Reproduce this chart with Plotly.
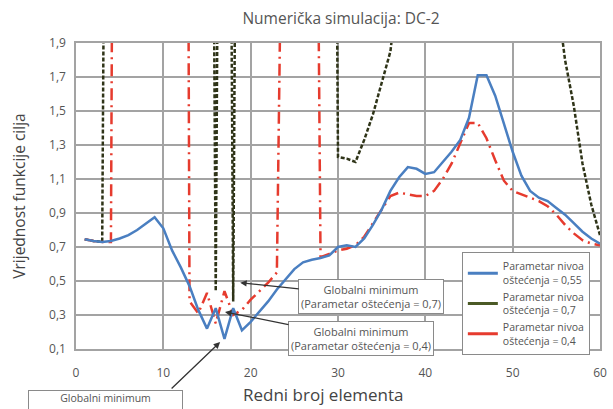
import plotly.graph_objects as go

# ---- data ----
elements = list(range(1, 61))

ciljna_055 = [0.745, 0.735, 0.73, 0.735, 0.75, 0.77, 0.80, 0.84, 0.875, 0.81,
              0.68, 0.58, 0.47, 0.33, 0.22, 0.34, 0.16, 0.34, 0.21, 0.26,
              0.32, 0.38, 0.45, 0.51, 0.57, 0.61, 0.625, 0.635, 0.65, 0.70,
              0.71, 0.70, 0.75, 0.83, 0.92, 1.03, 1.11, 1.17, 1.16, 1.13,
              1.14, 1.20, 1.26, 1.33, 1.46, 1.71, 1.71, 1.59, 1.43, 1.26,
              1.12, 1.03, 0.99, 0.97, 0.93, 0.89, 0.84, 0.79, 0.75, 0.72]

ciljna_07 = [0.745, 0.735, 0.73, 9.0, 9.0, 9.0, 9.0, 9.0, 9.0, 9.0,
             9.0, 9.0, 9.0, 9.0, 9.0, 0.44, 9.0, 0.38, 9.0, 9.0,
             9.0, 9.0, 9.0, 9.0, 9.0, 9.0, 9.0, 9.0, 9.0, 1.23,
             1.22, 1.20, 1.33, 1.48, 1.66, 1.85, 2.3, 2.6, 2.8, 3.0,
             3.1, 3.2, 3.3, 3.4, 3.4, 3.3, 3.2, 3.1, 3.0, 2.9,
             2.7, 2.5, 2.4, 2.3, 2.2, 1.80, 1.53, 1.19, 0.95, 0.77]

ciljna_04 = [0.745, 0.735, 0.73, 0.73, 12.0, 12.0, 12.0, 12.0, 12.0, 12.0,
             12.0, 15.0, 0.38, 0.31, 0.43, 0.25, 0.44, 0.30, 0.33, 0.39,
             0.44, 0.49, 0.55, 4.5, 8.0, 8.0, 7.0, 0.64, 0.66, 0.68,
             0.69, 0.71, 0.76, 0.84, 0.92, 1.00, 1.02, 1.01, 1.00, 1.00,
             1.03, 1.10, 1.19, 1.31, 1.43, 1.43, 1.34, 1.21, 1.09, 1.03,
             1.01, 0.99, 0.97, 0.94, 0.89, 0.83, 0.78, 0.74, 0.72, 0.71]

series_names = ["Parametar nivoa<br>oštećenja = 0,55",
                "Parametar nivoa<br>oštećenja = 0,7",
                "Parametar nivoa<br>oštećenja = 0,4"]

x_ticks = [0, 10, 20, 30, 40, 50, 60]
y_ticks = [0.1, 0.3, 0.5, 0.7, 0.9, 1.1, 1.3, 1.5, 1.7, 1.9]
y_ticktext = ["0,1", "0,3", "0,5", "0,7", "0,9", "1,1", "1,3", "1,5", "1,7", "1,9"]

# ---- styles ----
BLUE = "#4a7fc1"
GREEN = "#2f3418"
GREEN_LEG = "#4b5a26"
RED = "#e63b2e"
GRID = "#a3a3a3"
TXT = "#555555"
FONT = "Open Sans"

fig = go.Figure()

fig.add_trace(go.Scatter(x=elements, y=ciljna_07, mode="lines", showlegend=False,
                         line=dict(color=GREEN, width=2.5, dash="4px,2px")))
fig.add_trace(go.Scatter(x=elements, y=ciljna_04, mode="lines", showlegend=False,
                         line=dict(color=RED, width=2.5, dash="12px,5px,2px,5px")))
fig.add_trace(go.Scatter(x=elements, y=ciljna_055, mode="lines", showlegend=False,
                         line=dict(color=BLUE, width=2.5)))

# legend swatches (solid, as in the original legend)
for name, col in zip(series_names, [BLUE, GREEN_LEG, RED]):
    fig.add_trace(go.Scatter(x=[None], y=[None], mode="lines", name=name,
                             line=dict(color=col, width=3)))

box_style = dict(bordercolor="#8a8a8a", borderwidth=1, bgcolor="white",
                 font=dict(size=11, color=TXT, family=FONT))
arrow_style = dict(arrowcolor="#333333", arrowwidth=1.3, arrowhead=2, arrowsize=1)

PLOT_H = 306
annotations = [
    dict(x=18.8, y=0.49, xref="x", yref="y", ax=131, ay=14, showarrow=True, borderpad=2,
         text="Globalni minimum<br>(Parametar oštećenja = 0,7)", **box_style, **arrow_style),
    dict(x=17.06, y=0.318, xref="x", yref="y", ax=136, ay=27, showarrow=True, borderpad=2,
         text="Globalni minimum<br>(Parametar oštećenja = 0,4)", **box_style, **arrow_style),
    dict(x=(105.5 - 76) / 531, y=-(390 - 349) / PLOT_H, xref="paper", yref="paper",
         xanchor="center", yanchor="top", showarrow=False, width=153, height=30,
         valign="top", borderpad=0,
         text="Globalni minimum", bordercolor="#8a8a8a", borderwidth=1, bgcolor="white",
         font=dict(size=10.5, color=TXT, family=FONT)),
    dict(x=16.5, y=0.141, xref="x", yref="y", ax=-50, ay=48, showarrow=True,
         text=" ", font=dict(size=1), **arrow_style),
    dict(x=(326 - 76) / 531, y=-(394 - 349) / PLOT_H, xref="paper", yref="paper",
         xanchor="center", yanchor="middle", showarrow=False,
         text="Redni broj elementa", font=dict(size=17, color="#444444", family=FONT)),
    dict(x=-(76 - 18) / 531, y=0.5, xref="paper", yref="paper",
         xanchor="center", yanchor="middle", showarrow=False, textangle=-90,
         text="Vrijednost funkcije cilja", font=dict(size=15.5, color="#444444", family=FONT)),
]

fig.update_layout(
    width=613, height=409,
    margin=dict(l=76, r=6, t=43, b=60),
    paper_bgcolor="white", plot_bgcolor="white",
    font=dict(family=FONT, color=TXT),
    title=dict(text="Numerička simulacija: DC-2", x=(341 / 613), xanchor="center",
               y=1 - 19 / 409, yanchor="middle", yref="container",
               font=dict(size=15.5, color=TXT, family=FONT)),
    showlegend=True,
    legend=dict(x=(467 - 76) / 531, y=(349 - 252) / PLOT_H, xanchor="left", yanchor="top",
                bordercolor="#8a8a8a", borderwidth=1, bgcolor="white",
                font=dict(size=10.5, color=TXT, family=FONT), tracegroupgap=0,
                itemwidth=30, valign="middle"),
    annotations=annotations,
)

fig.update_xaxes(range=[0, 60], tickvals=x_ticks, showgrid=True, gridcolor=GRID, gridwidth=1.5,
                 showline=True, linecolor=GRID, linewidth=1.5, mirror=True, zeroline=False,
                 ticks="", ticklabelstandoff=12, tickfont=dict(size=12, color=TXT))
fig.update_yaxes(range=[0.1, 1.9], tickvals=y_ticks, ticktext=y_ticktext, showgrid=True,
                 gridcolor=GRID, gridwidth=1.5, showline=True, linecolor=GRID, linewidth=1.5,
                 mirror=True, zeroline=False, ticks="", ticklabelstandoff=6,
                 tickfont=dict(size=12, color=TXT))

fig.write_html("out.html")
